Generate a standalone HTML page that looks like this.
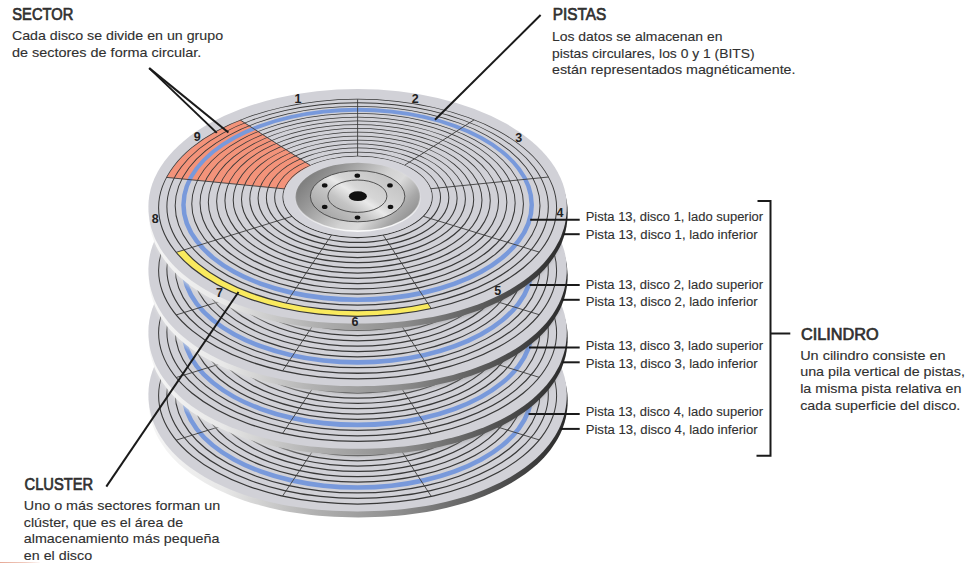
<!DOCTYPE html>
<html><head><meta charset="utf-8"><style>
html,body{margin:0;padding:0;background:#fff;}
svg{display:block;}
</style></head><body>
<svg width="974" height="563" viewBox="0 0 974 563">

<defs>
<linearGradient id="edge" gradientUnits="userSpaceOnUse" x1="148" y1="0" x2="567" y2="0">
  <stop offset="0" stop-color="#f6f6f6"/>
  <stop offset="0.18" stop-color="#e8e8e8"/>
  <stop offset="0.4" stop-color="#b0b0b0"/>
  <stop offset="0.6" stop-color="#8e8e8e"/>
  <stop offset="0.8" stop-color="#5a5a5a"/>
  <stop offset="1" stop-color="#2a2a2a"/>
</linearGradient>
<linearGradient id="shad" gradientUnits="userSpaceOnUse" x1="148" y1="0" x2="567" y2="0">
  <stop offset="0" stop-color="#e4e4e4" stop-opacity="0.55"/>
  <stop offset="0.25" stop-color="#dddddd" stop-opacity="0.6"/>
  <stop offset="0.45" stop-color="#b0b0b0" stop-opacity="0.55"/>
  <stop offset="0.7" stop-color="#999999" stop-opacity="0.45"/>
  <stop offset="1" stop-color="#555555" stop-opacity="0.25"/>
</linearGradient>
<filter id="blur" x="-5%" y="-5%" width="110%" height="110%"><feGaussianBlur stdDeviation="1.6"/></filter>
<linearGradient id="redfade" gradientUnits="userSpaceOnUse" x1="0" y1="0" x2="42" y2="0">
  <stop offset="0" stop-color="#e6a996"/><stop offset="0.6" stop-color="#f0cbbf"/><stop offset="1" stop-color="#ffffff"/>
</linearGradient>
<linearGradient id="metal" x1="0" y1="0.25" x2="1" y2="0.75">
  <stop offset="0" stop-color="#767676"/>
  <stop offset="0.25" stop-color="#9c9c9c"/>
  <stop offset="0.55" stop-color="#d2d2d2"/>
  <stop offset="0.68" stop-color="#dadada"/>
  <stop offset="0.85" stop-color="#a8a8a8"/>
  <stop offset="1" stop-color="#8a8a8a"/>
</linearGradient>
<linearGradient id="metal2" x1="0" y1="0.9" x2="1" y2="0.1">
  <stop offset="0" stop-color="#9a9a9a"/>
  <stop offset="0.35" stop-color="#c4c4c4"/>
  <stop offset="0.5" stop-color="#e9e9e9"/>
  <stop offset="0.58" stop-color="#d6d6d6"/>
  <stop offset="1" stop-color="#bdbdbd"/>
</linearGradient>
<linearGradient id="rim" x1="0.4" y1="0" x2="0.6" y2="1">
  <stop offset="0" stop-color="#ffffff" stop-opacity="0"/>
  <stop offset="0.55" stop-color="#ffffff" stop-opacity="0.15"/>
  <stop offset="1" stop-color="#ffffff" stop-opacity="0.95"/>
</linearGradient>
</defs>
<rect width="974" height="563" fill="#fff"/>
<path d="M148.70,400.10 A209.50,117.30 0 0 1 567.70,400.10 L567.7,400.1 567.6,404.9 567.2,409.4 566.6,413.8 565.8,418.0 564.7,422.2 563.3,426.4 561.8,430.5 560.0,434.5 557.9,438.4 555.6,442.3 553.1,446.1 550.4,449.9 547.5,453.6 544.3,457.2 540.9,460.7 537.3,464.2 533.4,467.5 529.4,470.8 525.2,474.0 520.7,477.1 516.1,480.1 511.3,483.0 506.3,485.8 501.1,488.5 495.7,491.1 490.2,493.6 484.5,496.0 478.6,498.2 472.6,500.4 466.5,502.4 460.2,504.3 453.7,506.1 447.1,507.7 440.4,509.3 433.6,510.7 426.7,511.9 419.6,513.1 412.4,514.1 405.1,515.0 397.7,515.7 390.2,516.3 382.6,516.8 374.8,517.1 366.8,517.3 358.2,517.4 349.6,517.3 341.6,517.1 333.8,516.8 326.2,516.3 318.7,515.7 311.3,515.0 304.0,514.1 296.8,513.1 289.7,511.9 282.8,510.7 276.0,509.3 269.3,507.7 262.7,506.1 256.2,504.3 249.9,502.4 243.8,500.4 237.8,498.2 231.9,496.0 226.2,493.6 220.7,491.1 215.3,488.5 210.1,485.8 205.1,483.0 200.3,480.1 195.7,477.1 191.2,474.0 187.0,470.8 183.0,467.5 179.1,464.2 175.5,460.7 172.1,457.2 168.9,453.6 166.0,449.9 163.3,446.1 160.8,442.3 158.5,438.4 156.4,434.5 154.6,430.5 153.1,426.4 151.7,422.2 150.6,418.0 149.8,413.8 149.2,409.4 148.8,404.9 148.7,400.1 Z" fill="url(#edge)"/>
<path d="M148.40,394.10 A209.20,117.30 0 0 1 566.80,394.10 L566.8,394.1 566.7,398.9 566.3,403.4 565.7,407.8 564.9,412.0 563.8,416.2 562.4,420.4 560.9,424.5 559.1,428.5 557.0,432.4 554.8,436.3 552.3,440.1 549.5,443.9 546.6,447.6 543.4,451.2 540.0,454.7 536.4,458.2 532.6,461.5 528.6,464.8 524.3,468.0 519.9,471.1 515.3,474.1 510.5,477.0 505.5,479.8 500.3,482.5 494.9,485.1 489.4,487.6 483.7,490.0 477.9,492.2 471.9,494.4 465.7,496.4 459.4,498.3 453.0,500.1 446.4,501.7 439.7,503.3 432.9,504.7 426.0,505.9 418.9,507.1 411.7,508.1 404.5,509.0 397.1,509.7 389.6,510.3 382.0,510.8 374.2,511.1 366.2,511.3 357.6,511.4 349.0,511.3 341.0,511.1 333.2,510.8 325.6,510.3 318.1,509.7 310.7,509.0 303.5,508.1 296.3,507.1 289.2,505.9 282.3,504.7 275.5,503.3 268.8,501.7 262.2,500.1 255.8,498.3 249.5,496.4 243.3,494.4 237.3,492.2 231.5,490.0 225.8,487.6 220.3,485.1 214.9,482.5 209.7,479.8 204.7,477.0 199.9,474.1 195.3,471.1 190.9,468.0 186.6,464.8 182.6,461.5 178.8,458.2 175.2,454.7 171.8,451.2 168.6,447.6 165.7,443.9 162.9,440.1 160.4,436.3 158.2,432.4 156.1,428.5 154.3,424.5 152.8,420.4 151.4,416.2 150.3,412.0 149.5,407.8 148.9,403.4 148.5,398.9 148.4,394.1 Z" fill="#d1d1d7"/>
<path fill-rule="evenodd" fill="#383838" d="M158.10,395.67A199.50,108.96 0 1 0 557.10,395.67A199.50,108.96 0 1 0 158.10,395.67ZM159.10,395.42A198.50,107.96 0 1 0 556.10,395.42A198.50,107.96 0 1 0 159.10,395.42Z"/>
<path fill-rule="evenodd" fill="#383838" d="M166.39,394.63A191.21,104.44 0 1 0 548.81,394.63A191.21,104.44 0 1 0 166.39,394.63ZM167.39,394.38A190.21,103.44 0 1 0 547.81,394.38A190.21,103.44 0 1 0 167.39,394.38Z"/>
<path fill-rule="evenodd" fill="#383838" d="M174.68,393.64A182.92,99.92 0 1 0 540.52,393.64A182.92,99.92 0 1 0 174.68,393.64ZM175.68,393.39A181.92,98.92 0 1 0 539.52,393.39A181.92,98.92 0 1 0 175.68,393.39Z"/>
<path fill-rule="evenodd" fill="#383838" d="M191.26,391.79A166.34,90.88 0 1 0 523.94,391.79A166.34,90.88 0 1 0 191.26,391.79ZM192.26,391.54A165.34,89.88 0 1 0 522.94,391.54A165.34,89.88 0 1 0 192.26,391.54Z"/>
<path fill-rule="evenodd" fill="#383838" d="M199.55,390.94A158.05,86.36 0 1 0 515.65,390.94A158.05,86.36 0 1 0 199.55,390.94ZM200.55,390.69A157.05,85.36 0 1 0 514.65,390.69A157.05,85.36 0 1 0 200.55,390.69Z"/>
<path fill-rule="evenodd" fill="#383838" d="M207.84,390.12A149.76,81.85 0 1 0 507.36,390.12A149.76,81.85 0 1 0 207.84,390.12ZM208.84,389.87A148.76,80.85 0 1 0 506.36,389.87A148.76,80.85 0 1 0 208.84,389.87Z"/>
<path fill-rule="evenodd" fill="#383838" d="M216.13,389.35A141.47,77.33 0 1 0 499.07,389.35A141.47,77.33 0 1 0 216.13,389.35ZM217.13,389.10A140.47,76.33 0 1 0 498.07,389.10A140.47,76.33 0 1 0 217.13,389.10Z"/>
<path fill-rule="evenodd" fill="#383838" d="M224.42,388.62A133.18,72.81 0 1 0 490.78,388.62A133.18,72.81 0 1 0 224.42,388.62ZM225.42,388.37A132.18,71.81 0 1 0 489.78,388.37A132.18,71.81 0 1 0 225.42,388.37Z"/>
<path fill-rule="evenodd" fill="#383838" d="M232.71,387.94A124.89,68.29 0 1 0 482.49,387.94A124.89,68.29 0 1 0 232.71,387.94ZM233.71,387.69A123.89,67.29 0 1 0 481.49,387.69A123.89,67.29 0 1 0 233.71,387.69Z"/>
<path fill-rule="evenodd" fill="#383838" d="M241.00,387.30A116.60,63.77 0 1 0 474.20,387.30A116.60,63.77 0 1 0 241.00,387.30ZM242.00,387.05A115.60,62.77 0 1 0 473.20,387.05A115.60,62.77 0 1 0 242.00,387.05Z"/>
<path fill-rule="evenodd" fill="#383838" d="M249.29,386.71A108.31,59.26 0 1 0 465.91,386.71A108.31,59.26 0 1 0 249.29,386.71ZM250.29,386.46A107.31,58.26 0 1 0 464.91,386.46A107.31,58.26 0 1 0 250.29,386.46Z"/>
<path fill-rule="evenodd" fill="#383838" d="M257.58,386.16A100.02,54.74 0 1 0 457.62,386.16A100.02,54.74 0 1 0 257.58,386.16ZM258.58,385.91A99.02,53.74 0 1 0 456.62,385.91A99.02,53.74 0 1 0 258.58,385.91Z"/>
<path fill-rule="evenodd" fill="#383838" d="M265.87,385.65A91.73,50.22 0 1 0 449.33,385.65A91.73,50.22 0 1 0 265.87,385.65ZM266.87,385.40A90.73,49.22 0 1 0 448.33,385.40A90.73,49.22 0 1 0 266.87,385.40Z"/>
<path fill-rule="evenodd" fill="#383838" d="M274.16,385.19A83.44,45.70 0 1 0 441.04,385.19A83.44,45.70 0 1 0 274.16,385.19ZM275.16,384.94A82.44,44.70 0 1 0 440.04,384.94A82.44,44.70 0 1 0 275.16,384.94Z"/>
<path fill-rule="evenodd" fill="#383838" d="M282.45,384.77A75.15,41.18 0 1 0 432.75,384.77A75.15,41.18 0 1 0 282.45,384.77ZM283.45,384.52A74.15,40.18 0 1 0 431.75,384.52A74.15,40.18 0 1 0 283.45,384.52Z"/>
<path fill-rule="evenodd" fill="#7899db" d="M181.22,392.77A176.38,97.05 0 1 0 533.98,392.77A176.38,97.05 0 1 0 181.22,392.77ZM185.72,392.37A171.88,92.75 0 1 0 529.48,392.37A171.88,92.75 0 1 0 185.72,392.37Z"/>
<line x1="357.60" y1="343.96" x2="357.60" y2="287.09" stroke="#3c3c3c" stroke-width="0.9"/>
<line x1="404.62" y1="353.04" x2="474.08" y2="307.61" stroke="#3c3c3c" stroke-width="0.9"/>
<line x1="430.75" y1="376.52" x2="548.45" y2="364.82" stroke="#3c3c3c" stroke-width="0.9"/>
<line x1="423.20" y1="404.06" x2="539.20" y2="439.90" stroke="#3c3c3c" stroke-width="0.9"/>
<line x1="383.17" y1="422.87" x2="431.23" y2="496.30" stroke="#3c3c3c" stroke-width="0.9"/>
<line x1="331.55" y1="422.77" x2="282.59" y2="496.00" stroke="#3c3c3c" stroke-width="0.9"/>
<line x1="292.09" y1="404.15" x2="176.20" y2="440.14" stroke="#3c3c3c" stroke-width="0.9"/>
<line x1="284.40" y1="376.67" x2="166.55" y2="365.20" stroke="#3c3c3c" stroke-width="0.9"/>
<line x1="310.29" y1="353.17" x2="240.36" y2="307.91" stroke="#3c3c3c" stroke-width="0.9"/>
<ellipse cx="357.60" cy="384.64" rx="74.15" ry="40.18" fill="#d4d4da"/>
<ellipse cx="357.8" cy="384.70" rx="62.3" ry="34.2" fill="url(#metal)" stroke="url(#rim)" stroke-width="1.6"/>
<ellipse cx="357.6" cy="384.00" rx="47.25" ry="25.6" fill="url(#metal2)" stroke="#444" stroke-width="0.9"/>
<ellipse cx="357.4" cy="384.00" rx="29.5" ry="16.2" fill="none" stroke="#444" stroke-width="0.9"/>
<ellipse cx="357.9" cy="384.00" rx="9" ry="4.9" fill="#111"/>
<ellipse cx="357.3" cy="363.50" rx="2.8" ry="2.1" fill="#111"/>
<ellipse cx="390" cy="373.20" rx="2.8" ry="2.1" fill="#111"/>
<ellipse cx="390.5" cy="394.70" rx="2.8" ry="2.1" fill="#111"/>
<ellipse cx="357.5" cy="405.30" rx="2.8" ry="2.1" fill="#111"/>
<ellipse cx="324.7" cy="394.70" rx="2.8" ry="2.1" fill="#111"/>
<ellipse cx="324.7" cy="373.20" rx="2.8" ry="2.1" fill="#111"/>
<clipPath id="cl2"><path d="M148.40,394.10 A209.20,117.30 0 0 1 566.80,394.10 L566.8,394.1 566.7,398.9 566.3,403.4 565.7,407.8 564.9,412.0 563.8,416.2 562.4,420.4 560.9,424.5 559.1,428.5 557.0,432.4 554.8,436.3 552.3,440.1 549.5,443.9 546.6,447.6 543.4,451.2 540.0,454.7 536.4,458.2 532.6,461.5 528.6,464.8 524.3,468.0 519.9,471.1 515.3,474.1 510.5,477.0 505.5,479.8 500.3,482.5 494.9,485.1 489.4,487.6 483.7,490.0 477.9,492.2 471.9,494.4 465.7,496.4 459.4,498.3 453.0,500.1 446.4,501.7 439.7,503.3 432.9,504.7 426.0,505.9 418.9,507.1 411.7,508.1 404.5,509.0 397.1,509.7 389.6,510.3 382.0,510.8 374.2,511.1 366.2,511.3 357.6,511.4 349.0,511.3 341.0,511.1 333.2,510.8 325.6,510.3 318.1,509.7 310.7,509.0 303.5,508.1 296.3,507.1 289.2,505.9 282.3,504.7 275.5,503.3 268.8,501.7 262.2,500.1 255.8,498.3 249.5,496.4 243.3,494.4 237.3,492.2 231.5,490.0 225.8,487.6 220.3,485.1 214.9,482.5 209.7,479.8 204.7,477.0 199.9,474.1 195.3,471.1 190.9,468.0 186.6,464.8 182.6,461.5 178.8,458.2 175.2,454.7 171.8,451.2 168.6,447.6 165.7,443.9 162.9,440.1 160.4,436.3 158.2,432.4 156.1,428.5 154.3,424.5 152.8,420.4 151.4,416.2 150.3,412.0 149.5,407.8 148.9,403.4 148.5,398.9 148.4,394.1 Z"/></clipPath><g clip-path="url(#cl2)"><path d="M148.40,339.50 A209.20,117.30 0 0 1 566.80,339.50 L566.8,339.5 566.7,344.3 566.3,348.8 565.7,353.2 564.9,357.4 563.8,361.6 562.4,365.8 560.9,369.9 559.1,373.9 557.0,377.8 554.8,381.7 552.3,385.5 549.5,389.3 546.6,393.0 543.4,396.6 540.0,400.1 536.4,403.6 532.6,406.9 528.6,410.2 524.3,413.4 519.9,416.5 515.3,419.5 510.5,422.4 505.5,425.2 500.3,427.9 494.9,430.5 489.4,433.0 483.7,435.4 477.9,437.6 471.9,439.8 465.7,441.8 459.4,443.7 453.0,445.5 446.4,447.1 439.7,448.7 432.9,450.1 426.0,451.3 418.9,452.5 411.7,453.5 404.5,454.4 397.1,455.1 389.6,455.7 382.0,456.2 374.2,456.5 366.2,456.7 357.6,456.8 349.0,456.7 341.0,456.5 333.2,456.2 325.6,455.7 318.1,455.1 310.7,454.4 303.5,453.5 296.3,452.5 289.2,451.3 282.3,450.1 275.5,448.7 268.8,447.1 262.2,445.5 255.8,443.7 249.5,441.8 243.3,439.8 237.3,437.6 231.5,435.4 225.8,433.0 220.3,430.5 214.9,427.9 209.7,425.2 204.7,422.4 199.9,419.5 195.3,416.5 190.9,413.4 186.6,410.2 182.6,406.9 178.8,403.6 175.2,400.1 171.8,396.6 168.6,393.0 165.7,389.3 162.9,385.5 160.4,381.7 158.2,377.8 156.1,373.9 154.3,369.9 152.8,365.8 151.4,361.6 150.3,357.4 149.5,353.2 148.9,348.8 148.5,344.3 148.4,339.5 Z" fill="url(#shad)" filter="url(#blur)"/></g>
<path d="M148.70,337.50 A209.50,117.30 0 0 1 567.70,337.50 L567.7,337.5 567.6,342.3 567.2,346.8 566.6,351.2 565.8,355.4 564.7,359.6 563.3,363.8 561.8,367.9 560.0,371.9 557.9,375.8 555.6,379.7 553.1,383.5 550.4,387.3 547.5,391.0 544.3,394.6 540.9,398.1 537.3,401.6 533.4,404.9 529.4,408.2 525.2,411.4 520.7,414.5 516.1,417.5 511.3,420.4 506.3,423.2 501.1,425.9 495.7,428.5 490.2,431.0 484.5,433.4 478.6,435.6 472.6,437.8 466.5,439.8 460.2,441.7 453.7,443.5 447.1,445.1 440.4,446.7 433.6,448.1 426.7,449.3 419.6,450.5 412.4,451.5 405.1,452.4 397.7,453.1 390.2,453.7 382.6,454.2 374.8,454.5 366.8,454.7 358.2,454.8 349.6,454.7 341.6,454.5 333.8,454.2 326.2,453.7 318.7,453.1 311.3,452.4 304.0,451.5 296.8,450.5 289.7,449.3 282.8,448.1 276.0,446.7 269.3,445.1 262.7,443.5 256.2,441.7 249.9,439.8 243.8,437.8 237.8,435.6 231.9,433.4 226.2,431.0 220.7,428.5 215.3,425.9 210.1,423.2 205.1,420.4 200.3,417.5 195.7,414.5 191.2,411.4 187.0,408.2 183.0,404.9 179.1,401.6 175.5,398.1 172.1,394.6 168.9,391.0 166.0,387.3 163.3,383.5 160.8,379.7 158.5,375.8 156.4,371.9 154.6,367.9 153.1,363.8 151.7,359.6 150.6,355.4 149.8,351.2 149.2,346.8 148.8,342.3 148.7,337.5 Z" fill="url(#edge)"/>
<path d="M148.40,331.50 A209.20,117.30 0 0 1 566.80,331.50 L566.8,331.5 566.7,336.3 566.3,340.8 565.7,345.2 564.9,349.4 563.8,353.6 562.4,357.8 560.9,361.9 559.1,365.9 557.0,369.8 554.8,373.7 552.3,377.5 549.5,381.3 546.6,385.0 543.4,388.6 540.0,392.1 536.4,395.6 532.6,398.9 528.6,402.2 524.3,405.4 519.9,408.5 515.3,411.5 510.5,414.4 505.5,417.2 500.3,419.9 494.9,422.5 489.4,425.0 483.7,427.4 477.9,429.6 471.9,431.8 465.7,433.8 459.4,435.7 453.0,437.5 446.4,439.1 439.7,440.7 432.9,442.1 426.0,443.3 418.9,444.5 411.7,445.5 404.5,446.4 397.1,447.1 389.6,447.7 382.0,448.2 374.2,448.5 366.2,448.7 357.6,448.8 349.0,448.7 341.0,448.5 333.2,448.2 325.6,447.7 318.1,447.1 310.7,446.4 303.5,445.5 296.3,444.5 289.2,443.3 282.3,442.1 275.5,440.7 268.8,439.1 262.2,437.5 255.8,435.7 249.5,433.8 243.3,431.8 237.3,429.6 231.5,427.4 225.8,425.0 220.3,422.5 214.9,419.9 209.7,417.2 204.7,414.4 199.9,411.5 195.3,408.5 190.9,405.4 186.6,402.2 182.6,398.9 178.8,395.6 175.2,392.1 171.8,388.6 168.6,385.0 165.7,381.3 162.9,377.5 160.4,373.7 158.2,369.8 156.1,365.9 154.3,361.9 152.8,357.8 151.4,353.6 150.3,349.4 149.5,345.2 148.9,340.8 148.5,336.3 148.4,331.5 Z" fill="#d1d1d7"/>
<path fill-rule="evenodd" fill="#383838" d="M158.10,333.07A199.50,108.96 0 1 0 557.10,333.07A199.50,108.96 0 1 0 158.10,333.07ZM159.10,332.82A198.50,107.96 0 1 0 556.10,332.82A198.50,107.96 0 1 0 159.10,332.82Z"/>
<path fill-rule="evenodd" fill="#383838" d="M166.39,332.03A191.21,104.44 0 1 0 548.81,332.03A191.21,104.44 0 1 0 166.39,332.03ZM167.39,331.78A190.21,103.44 0 1 0 547.81,331.78A190.21,103.44 0 1 0 167.39,331.78Z"/>
<path fill-rule="evenodd" fill="#383838" d="M174.68,331.04A182.92,99.92 0 1 0 540.52,331.04A182.92,99.92 0 1 0 174.68,331.04ZM175.68,330.79A181.92,98.92 0 1 0 539.52,330.79A181.92,98.92 0 1 0 175.68,330.79Z"/>
<path fill-rule="evenodd" fill="#383838" d="M191.26,329.19A166.34,90.88 0 1 0 523.94,329.19A166.34,90.88 0 1 0 191.26,329.19ZM192.26,328.94A165.34,89.88 0 1 0 522.94,328.94A165.34,89.88 0 1 0 192.26,328.94Z"/>
<path fill-rule="evenodd" fill="#383838" d="M199.55,328.34A158.05,86.36 0 1 0 515.65,328.34A158.05,86.36 0 1 0 199.55,328.34ZM200.55,328.09A157.05,85.36 0 1 0 514.65,328.09A157.05,85.36 0 1 0 200.55,328.09Z"/>
<path fill-rule="evenodd" fill="#383838" d="M207.84,327.52A149.76,81.85 0 1 0 507.36,327.52A149.76,81.85 0 1 0 207.84,327.52ZM208.84,327.27A148.76,80.85 0 1 0 506.36,327.27A148.76,80.85 0 1 0 208.84,327.27Z"/>
<path fill-rule="evenodd" fill="#383838" d="M216.13,326.75A141.47,77.33 0 1 0 499.07,326.75A141.47,77.33 0 1 0 216.13,326.75ZM217.13,326.50A140.47,76.33 0 1 0 498.07,326.50A140.47,76.33 0 1 0 217.13,326.50Z"/>
<path fill-rule="evenodd" fill="#383838" d="M224.42,326.02A133.18,72.81 0 1 0 490.78,326.02A133.18,72.81 0 1 0 224.42,326.02ZM225.42,325.77A132.18,71.81 0 1 0 489.78,325.77A132.18,71.81 0 1 0 225.42,325.77Z"/>
<path fill-rule="evenodd" fill="#383838" d="M232.71,325.34A124.89,68.29 0 1 0 482.49,325.34A124.89,68.29 0 1 0 232.71,325.34ZM233.71,325.09A123.89,67.29 0 1 0 481.49,325.09A123.89,67.29 0 1 0 233.71,325.09Z"/>
<path fill-rule="evenodd" fill="#383838" d="M241.00,324.70A116.60,63.77 0 1 0 474.20,324.70A116.60,63.77 0 1 0 241.00,324.70ZM242.00,324.45A115.60,62.77 0 1 0 473.20,324.45A115.60,62.77 0 1 0 242.00,324.45Z"/>
<path fill-rule="evenodd" fill="#383838" d="M249.29,324.11A108.31,59.26 0 1 0 465.91,324.11A108.31,59.26 0 1 0 249.29,324.11ZM250.29,323.86A107.31,58.26 0 1 0 464.91,323.86A107.31,58.26 0 1 0 250.29,323.86Z"/>
<path fill-rule="evenodd" fill="#383838" d="M257.58,323.56A100.02,54.74 0 1 0 457.62,323.56A100.02,54.74 0 1 0 257.58,323.56ZM258.58,323.31A99.02,53.74 0 1 0 456.62,323.31A99.02,53.74 0 1 0 258.58,323.31Z"/>
<path fill-rule="evenodd" fill="#383838" d="M265.87,323.05A91.73,50.22 0 1 0 449.33,323.05A91.73,50.22 0 1 0 265.87,323.05ZM266.87,322.80A90.73,49.22 0 1 0 448.33,322.80A90.73,49.22 0 1 0 266.87,322.80Z"/>
<path fill-rule="evenodd" fill="#383838" d="M274.16,322.59A83.44,45.70 0 1 0 441.04,322.59A83.44,45.70 0 1 0 274.16,322.59ZM275.16,322.34A82.44,44.70 0 1 0 440.04,322.34A82.44,44.70 0 1 0 275.16,322.34Z"/>
<path fill-rule="evenodd" fill="#383838" d="M282.45,322.17A75.15,41.18 0 1 0 432.75,322.17A75.15,41.18 0 1 0 282.45,322.17ZM283.45,321.92A74.15,40.18 0 1 0 431.75,321.92A74.15,40.18 0 1 0 283.45,321.92Z"/>
<path fill-rule="evenodd" fill="#7899db" d="M181.22,330.17A176.38,97.05 0 1 0 533.98,330.17A176.38,97.05 0 1 0 181.22,330.17ZM185.72,329.77A171.88,92.75 0 1 0 529.48,329.77A171.88,92.75 0 1 0 185.72,329.77Z"/>
<line x1="357.60" y1="281.36" x2="357.60" y2="224.49" stroke="#3c3c3c" stroke-width="0.9"/>
<line x1="404.62" y1="290.44" x2="474.08" y2="245.01" stroke="#3c3c3c" stroke-width="0.9"/>
<line x1="430.75" y1="313.92" x2="548.45" y2="302.22" stroke="#3c3c3c" stroke-width="0.9"/>
<line x1="423.20" y1="341.46" x2="539.20" y2="377.30" stroke="#3c3c3c" stroke-width="0.9"/>
<line x1="383.17" y1="360.27" x2="431.23" y2="433.70" stroke="#3c3c3c" stroke-width="0.9"/>
<line x1="331.55" y1="360.17" x2="282.59" y2="433.40" stroke="#3c3c3c" stroke-width="0.9"/>
<line x1="292.09" y1="341.55" x2="176.20" y2="377.54" stroke="#3c3c3c" stroke-width="0.9"/>
<line x1="284.40" y1="314.07" x2="166.55" y2="302.60" stroke="#3c3c3c" stroke-width="0.9"/>
<line x1="310.29" y1="290.57" x2="240.36" y2="245.31" stroke="#3c3c3c" stroke-width="0.9"/>
<ellipse cx="357.60" cy="322.04" rx="74.15" ry="40.18" fill="#d4d4da"/>
<ellipse cx="357.8" cy="322.10" rx="62.3" ry="34.2" fill="url(#metal)" stroke="url(#rim)" stroke-width="1.6"/>
<ellipse cx="357.6" cy="321.40" rx="47.25" ry="25.6" fill="url(#metal2)" stroke="#444" stroke-width="0.9"/>
<ellipse cx="357.4" cy="321.40" rx="29.5" ry="16.2" fill="none" stroke="#444" stroke-width="0.9"/>
<ellipse cx="357.9" cy="321.40" rx="9" ry="4.9" fill="#111"/>
<ellipse cx="357.3" cy="300.90" rx="2.8" ry="2.1" fill="#111"/>
<ellipse cx="390" cy="310.60" rx="2.8" ry="2.1" fill="#111"/>
<ellipse cx="390.5" cy="332.10" rx="2.8" ry="2.1" fill="#111"/>
<ellipse cx="357.5" cy="342.70" rx="2.8" ry="2.1" fill="#111"/>
<ellipse cx="324.7" cy="332.10" rx="2.8" ry="2.1" fill="#111"/>
<ellipse cx="324.7" cy="310.60" rx="2.8" ry="2.1" fill="#111"/>
<clipPath id="cl1"><path d="M148.40,331.50 A209.20,117.30 0 0 1 566.80,331.50 L566.8,331.5 566.7,336.3 566.3,340.8 565.7,345.2 564.9,349.4 563.8,353.6 562.4,357.8 560.9,361.9 559.1,365.9 557.0,369.8 554.8,373.7 552.3,377.5 549.5,381.3 546.6,385.0 543.4,388.6 540.0,392.1 536.4,395.6 532.6,398.9 528.6,402.2 524.3,405.4 519.9,408.5 515.3,411.5 510.5,414.4 505.5,417.2 500.3,419.9 494.9,422.5 489.4,425.0 483.7,427.4 477.9,429.6 471.9,431.8 465.7,433.8 459.4,435.7 453.0,437.5 446.4,439.1 439.7,440.7 432.9,442.1 426.0,443.3 418.9,444.5 411.7,445.5 404.5,446.4 397.1,447.1 389.6,447.7 382.0,448.2 374.2,448.5 366.2,448.7 357.6,448.8 349.0,448.7 341.0,448.5 333.2,448.2 325.6,447.7 318.1,447.1 310.7,446.4 303.5,445.5 296.3,444.5 289.2,443.3 282.3,442.1 275.5,440.7 268.8,439.1 262.2,437.5 255.8,435.7 249.5,433.8 243.3,431.8 237.3,429.6 231.5,427.4 225.8,425.0 220.3,422.5 214.9,419.9 209.7,417.2 204.7,414.4 199.9,411.5 195.3,408.5 190.9,405.4 186.6,402.2 182.6,398.9 178.8,395.6 175.2,392.1 171.8,388.6 168.6,385.0 165.7,381.3 162.9,377.5 160.4,373.7 158.2,369.8 156.1,365.9 154.3,361.9 152.8,357.8 151.4,353.6 150.3,349.4 149.5,345.2 148.9,340.8 148.5,336.3 148.4,331.5 Z"/></clipPath><g clip-path="url(#cl1)"><path d="M148.40,276.90 A209.20,117.30 0 0 1 566.80,276.90 L566.8,276.9 566.7,281.7 566.3,286.2 565.7,290.6 564.9,294.8 563.8,299.0 562.4,303.2 560.9,307.3 559.1,311.3 557.0,315.2 554.8,319.1 552.3,322.9 549.5,326.7 546.6,330.4 543.4,334.0 540.0,337.5 536.4,341.0 532.6,344.3 528.6,347.6 524.3,350.8 519.9,353.9 515.3,356.9 510.5,359.8 505.5,362.6 500.3,365.3 494.9,367.9 489.4,370.4 483.7,372.8 477.9,375.0 471.9,377.2 465.7,379.2 459.4,381.1 453.0,382.9 446.4,384.5 439.7,386.1 432.9,387.5 426.0,388.7 418.9,389.9 411.7,390.9 404.5,391.8 397.1,392.5 389.6,393.1 382.0,393.6 374.2,393.9 366.2,394.1 357.6,394.2 349.0,394.1 341.0,393.9 333.2,393.6 325.6,393.1 318.1,392.5 310.7,391.8 303.5,390.9 296.3,389.9 289.2,388.7 282.3,387.5 275.5,386.1 268.8,384.5 262.2,382.9 255.8,381.1 249.5,379.2 243.3,377.2 237.3,375.0 231.5,372.8 225.8,370.4 220.3,367.9 214.9,365.3 209.7,362.6 204.7,359.8 199.9,356.9 195.3,353.9 190.9,350.8 186.6,347.6 182.6,344.3 178.8,341.0 175.2,337.5 171.8,334.0 168.6,330.4 165.7,326.7 162.9,322.9 160.4,319.1 158.2,315.2 156.1,311.3 154.3,307.3 152.8,303.2 151.4,299.0 150.3,294.8 149.5,290.6 148.9,286.2 148.5,281.7 148.4,276.9 Z" fill="url(#shad)" filter="url(#blur)"/></g>
<path d="M148.70,274.90 A209.50,117.30 0 0 1 567.70,274.90 L567.7,274.9 567.6,279.7 567.2,284.2 566.6,288.6 565.8,292.8 564.7,297.0 563.3,301.2 561.8,305.3 560.0,309.3 557.9,313.2 555.6,317.1 553.1,320.9 550.4,324.7 547.5,328.4 544.3,332.0 540.9,335.5 537.3,339.0 533.4,342.3 529.4,345.6 525.2,348.8 520.7,351.9 516.1,354.9 511.3,357.8 506.3,360.6 501.1,363.3 495.7,365.9 490.2,368.4 484.5,370.8 478.6,373.0 472.6,375.2 466.5,377.2 460.2,379.1 453.7,380.9 447.1,382.5 440.4,384.1 433.6,385.5 426.7,386.7 419.6,387.9 412.4,388.9 405.1,389.8 397.7,390.5 390.2,391.1 382.6,391.6 374.8,391.9 366.8,392.1 358.2,392.2 349.6,392.1 341.6,391.9 333.8,391.6 326.2,391.1 318.7,390.5 311.3,389.8 304.0,388.9 296.8,387.9 289.7,386.7 282.8,385.5 276.0,384.1 269.3,382.5 262.7,380.9 256.2,379.1 249.9,377.2 243.8,375.2 237.8,373.0 231.9,370.8 226.2,368.4 220.7,365.9 215.3,363.3 210.1,360.6 205.1,357.8 200.3,354.9 195.7,351.9 191.2,348.8 187.0,345.6 183.0,342.3 179.1,339.0 175.5,335.5 172.1,332.0 168.9,328.4 166.0,324.7 163.3,320.9 160.8,317.1 158.5,313.2 156.4,309.3 154.6,305.3 153.1,301.2 151.7,297.0 150.6,292.8 149.8,288.6 149.2,284.2 148.8,279.7 148.7,274.9 Z" fill="url(#edge)"/>
<path d="M148.40,268.90 A209.20,117.30 0 0 1 566.80,268.90 L566.8,268.9 566.7,273.7 566.3,278.2 565.7,282.6 564.9,286.8 563.8,291.0 562.4,295.2 560.9,299.3 559.1,303.3 557.0,307.2 554.8,311.1 552.3,314.9 549.5,318.7 546.6,322.4 543.4,326.0 540.0,329.5 536.4,333.0 532.6,336.3 528.6,339.6 524.3,342.8 519.9,345.9 515.3,348.9 510.5,351.8 505.5,354.6 500.3,357.3 494.9,359.9 489.4,362.4 483.7,364.8 477.9,367.0 471.9,369.2 465.7,371.2 459.4,373.1 453.0,374.9 446.4,376.5 439.7,378.1 432.9,379.5 426.0,380.7 418.9,381.9 411.7,382.9 404.5,383.8 397.1,384.5 389.6,385.1 382.0,385.6 374.2,385.9 366.2,386.1 357.6,386.2 349.0,386.1 341.0,385.9 333.2,385.6 325.6,385.1 318.1,384.5 310.7,383.8 303.5,382.9 296.3,381.9 289.2,380.7 282.3,379.5 275.5,378.1 268.8,376.5 262.2,374.9 255.8,373.1 249.5,371.2 243.3,369.2 237.3,367.0 231.5,364.8 225.8,362.4 220.3,359.9 214.9,357.3 209.7,354.6 204.7,351.8 199.9,348.9 195.3,345.9 190.9,342.8 186.6,339.6 182.6,336.3 178.8,333.0 175.2,329.5 171.8,326.0 168.6,322.4 165.7,318.7 162.9,314.9 160.4,311.1 158.2,307.2 156.1,303.3 154.3,299.3 152.8,295.2 151.4,291.0 150.3,286.8 149.5,282.6 148.9,278.2 148.5,273.7 148.4,268.9 Z" fill="#d1d1d7"/>
<path fill-rule="evenodd" fill="#383838" d="M158.10,270.47A199.50,108.96 0 1 0 557.10,270.47A199.50,108.96 0 1 0 158.10,270.47ZM159.10,270.22A198.50,107.96 0 1 0 556.10,270.22A198.50,107.96 0 1 0 159.10,270.22Z"/>
<path fill-rule="evenodd" fill="#383838" d="M166.39,269.43A191.21,104.44 0 1 0 548.81,269.43A191.21,104.44 0 1 0 166.39,269.43ZM167.39,269.18A190.21,103.44 0 1 0 547.81,269.18A190.21,103.44 0 1 0 167.39,269.18Z"/>
<path fill-rule="evenodd" fill="#383838" d="M174.68,268.44A182.92,99.92 0 1 0 540.52,268.44A182.92,99.92 0 1 0 174.68,268.44ZM175.68,268.19A181.92,98.92 0 1 0 539.52,268.19A181.92,98.92 0 1 0 175.68,268.19Z"/>
<path fill-rule="evenodd" fill="#383838" d="M191.26,266.59A166.34,90.88 0 1 0 523.94,266.59A166.34,90.88 0 1 0 191.26,266.59ZM192.26,266.34A165.34,89.88 0 1 0 522.94,266.34A165.34,89.88 0 1 0 192.26,266.34Z"/>
<path fill-rule="evenodd" fill="#383838" d="M199.55,265.74A158.05,86.36 0 1 0 515.65,265.74A158.05,86.36 0 1 0 199.55,265.74ZM200.55,265.49A157.05,85.36 0 1 0 514.65,265.49A157.05,85.36 0 1 0 200.55,265.49Z"/>
<path fill-rule="evenodd" fill="#383838" d="M207.84,264.92A149.76,81.85 0 1 0 507.36,264.92A149.76,81.85 0 1 0 207.84,264.92ZM208.84,264.67A148.76,80.85 0 1 0 506.36,264.67A148.76,80.85 0 1 0 208.84,264.67Z"/>
<path fill-rule="evenodd" fill="#383838" d="M216.13,264.15A141.47,77.33 0 1 0 499.07,264.15A141.47,77.33 0 1 0 216.13,264.15ZM217.13,263.90A140.47,76.33 0 1 0 498.07,263.90A140.47,76.33 0 1 0 217.13,263.90Z"/>
<path fill-rule="evenodd" fill="#383838" d="M224.42,263.42A133.18,72.81 0 1 0 490.78,263.42A133.18,72.81 0 1 0 224.42,263.42ZM225.42,263.17A132.18,71.81 0 1 0 489.78,263.17A132.18,71.81 0 1 0 225.42,263.17Z"/>
<path fill-rule="evenodd" fill="#383838" d="M232.71,262.74A124.89,68.29 0 1 0 482.49,262.74A124.89,68.29 0 1 0 232.71,262.74ZM233.71,262.49A123.89,67.29 0 1 0 481.49,262.49A123.89,67.29 0 1 0 233.71,262.49Z"/>
<path fill-rule="evenodd" fill="#383838" d="M241.00,262.10A116.60,63.77 0 1 0 474.20,262.10A116.60,63.77 0 1 0 241.00,262.10ZM242.00,261.85A115.60,62.77 0 1 0 473.20,261.85A115.60,62.77 0 1 0 242.00,261.85Z"/>
<path fill-rule="evenodd" fill="#383838" d="M249.29,261.51A108.31,59.26 0 1 0 465.91,261.51A108.31,59.26 0 1 0 249.29,261.51ZM250.29,261.26A107.31,58.26 0 1 0 464.91,261.26A107.31,58.26 0 1 0 250.29,261.26Z"/>
<path fill-rule="evenodd" fill="#383838" d="M257.58,260.96A100.02,54.74 0 1 0 457.62,260.96A100.02,54.74 0 1 0 257.58,260.96ZM258.58,260.71A99.02,53.74 0 1 0 456.62,260.71A99.02,53.74 0 1 0 258.58,260.71Z"/>
<path fill-rule="evenodd" fill="#383838" d="M265.87,260.45A91.73,50.22 0 1 0 449.33,260.45A91.73,50.22 0 1 0 265.87,260.45ZM266.87,260.20A90.73,49.22 0 1 0 448.33,260.20A90.73,49.22 0 1 0 266.87,260.20Z"/>
<path fill-rule="evenodd" fill="#383838" d="M274.16,259.99A83.44,45.70 0 1 0 441.04,259.99A83.44,45.70 0 1 0 274.16,259.99ZM275.16,259.74A82.44,44.70 0 1 0 440.04,259.74A82.44,44.70 0 1 0 275.16,259.74Z"/>
<path fill-rule="evenodd" fill="#383838" d="M282.45,259.57A75.15,41.18 0 1 0 432.75,259.57A75.15,41.18 0 1 0 282.45,259.57ZM283.45,259.32A74.15,40.18 0 1 0 431.75,259.32A74.15,40.18 0 1 0 283.45,259.32Z"/>
<path fill-rule="evenodd" fill="#7899db" d="M181.22,267.57A176.38,97.05 0 1 0 533.98,267.57A176.38,97.05 0 1 0 181.22,267.57ZM185.72,267.17A171.88,92.75 0 1 0 529.48,267.17A171.88,92.75 0 1 0 185.72,267.17Z"/>
<line x1="357.60" y1="218.76" x2="357.60" y2="161.89" stroke="#3c3c3c" stroke-width="0.9"/>
<line x1="404.62" y1="227.84" x2="474.08" y2="182.41" stroke="#3c3c3c" stroke-width="0.9"/>
<line x1="430.75" y1="251.32" x2="548.45" y2="239.62" stroke="#3c3c3c" stroke-width="0.9"/>
<line x1="423.20" y1="278.86" x2="539.20" y2="314.70" stroke="#3c3c3c" stroke-width="0.9"/>
<line x1="383.17" y1="297.67" x2="431.23" y2="371.10" stroke="#3c3c3c" stroke-width="0.9"/>
<line x1="331.55" y1="297.57" x2="282.59" y2="370.80" stroke="#3c3c3c" stroke-width="0.9"/>
<line x1="292.09" y1="278.95" x2="176.20" y2="314.94" stroke="#3c3c3c" stroke-width="0.9"/>
<line x1="284.40" y1="251.47" x2="166.55" y2="240.00" stroke="#3c3c3c" stroke-width="0.9"/>
<line x1="310.29" y1="227.97" x2="240.36" y2="182.71" stroke="#3c3c3c" stroke-width="0.9"/>
<ellipse cx="357.60" cy="259.44" rx="74.15" ry="40.18" fill="#d4d4da"/>
<ellipse cx="357.8" cy="259.50" rx="62.3" ry="34.2" fill="url(#metal)" stroke="url(#rim)" stroke-width="1.6"/>
<ellipse cx="357.6" cy="258.80" rx="47.25" ry="25.6" fill="url(#metal2)" stroke="#444" stroke-width="0.9"/>
<ellipse cx="357.4" cy="258.80" rx="29.5" ry="16.2" fill="none" stroke="#444" stroke-width="0.9"/>
<ellipse cx="357.9" cy="258.80" rx="9" ry="4.9" fill="#111"/>
<ellipse cx="357.3" cy="238.30" rx="2.8" ry="2.1" fill="#111"/>
<ellipse cx="390" cy="248.00" rx="2.8" ry="2.1" fill="#111"/>
<ellipse cx="390.5" cy="269.50" rx="2.8" ry="2.1" fill="#111"/>
<ellipse cx="357.5" cy="280.10" rx="2.8" ry="2.1" fill="#111"/>
<ellipse cx="324.7" cy="269.50" rx="2.8" ry="2.1" fill="#111"/>
<ellipse cx="324.7" cy="248.00" rx="2.8" ry="2.1" fill="#111"/>
<clipPath id="cl0"><path d="M148.40,268.90 A209.20,117.30 0 0 1 566.80,268.90 L566.8,268.9 566.7,273.7 566.3,278.2 565.7,282.6 564.9,286.8 563.8,291.0 562.4,295.2 560.9,299.3 559.1,303.3 557.0,307.2 554.8,311.1 552.3,314.9 549.5,318.7 546.6,322.4 543.4,326.0 540.0,329.5 536.4,333.0 532.6,336.3 528.6,339.6 524.3,342.8 519.9,345.9 515.3,348.9 510.5,351.8 505.5,354.6 500.3,357.3 494.9,359.9 489.4,362.4 483.7,364.8 477.9,367.0 471.9,369.2 465.7,371.2 459.4,373.1 453.0,374.9 446.4,376.5 439.7,378.1 432.9,379.5 426.0,380.7 418.9,381.9 411.7,382.9 404.5,383.8 397.1,384.5 389.6,385.1 382.0,385.6 374.2,385.9 366.2,386.1 357.6,386.2 349.0,386.1 341.0,385.9 333.2,385.6 325.6,385.1 318.1,384.5 310.7,383.8 303.5,382.9 296.3,381.9 289.2,380.7 282.3,379.5 275.5,378.1 268.8,376.5 262.2,374.9 255.8,373.1 249.5,371.2 243.3,369.2 237.3,367.0 231.5,364.8 225.8,362.4 220.3,359.9 214.9,357.3 209.7,354.6 204.7,351.8 199.9,348.9 195.3,345.9 190.9,342.8 186.6,339.6 182.6,336.3 178.8,333.0 175.2,329.5 171.8,326.0 168.6,322.4 165.7,318.7 162.9,314.9 160.4,311.1 158.2,307.2 156.1,303.3 154.3,299.3 152.8,295.2 151.4,291.0 150.3,286.8 149.5,282.6 148.9,278.2 148.5,273.7 148.4,268.9 Z"/></clipPath><g clip-path="url(#cl0)"><path d="M148.40,214.30 A209.20,117.30 0 0 1 566.80,214.30 L566.8,214.3 566.7,219.1 566.3,223.6 565.7,228.0 564.9,232.2 563.8,236.4 562.4,240.6 560.9,244.7 559.1,248.7 557.0,252.6 554.8,256.5 552.3,260.3 549.5,264.1 546.6,267.8 543.4,271.4 540.0,274.9 536.4,278.4 532.6,281.7 528.6,285.0 524.3,288.2 519.9,291.3 515.3,294.3 510.5,297.2 505.5,300.0 500.3,302.7 494.9,305.3 489.4,307.8 483.7,310.2 477.9,312.4 471.9,314.6 465.7,316.6 459.4,318.5 453.0,320.3 446.4,321.9 439.7,323.5 432.9,324.9 426.0,326.1 418.9,327.3 411.7,328.3 404.5,329.2 397.1,329.9 389.6,330.5 382.0,331.0 374.2,331.3 366.2,331.5 357.6,331.6 349.0,331.5 341.0,331.3 333.2,331.0 325.6,330.5 318.1,329.9 310.7,329.2 303.5,328.3 296.3,327.3 289.2,326.1 282.3,324.9 275.5,323.5 268.8,321.9 262.2,320.3 255.8,318.5 249.5,316.6 243.3,314.6 237.3,312.4 231.5,310.2 225.8,307.8 220.3,305.3 214.9,302.7 209.7,300.0 204.7,297.2 199.9,294.3 195.3,291.3 190.9,288.2 186.6,285.0 182.6,281.7 178.8,278.4 175.2,274.9 171.8,271.4 168.6,267.8 165.7,264.1 162.9,260.3 160.4,256.5 158.2,252.6 156.1,248.7 154.3,244.7 152.8,240.6 151.4,236.4 150.3,232.2 149.5,228.0 148.9,223.6 148.5,219.1 148.4,214.3 Z" fill="url(#shad)" filter="url(#blur)"/></g>
<path d="M148.70,212.30 A209.50,117.30 0 0 1 567.70,212.30 L567.7,212.3 567.6,217.1 567.2,221.6 566.6,226.0 565.8,230.2 564.7,234.4 563.3,238.6 561.8,242.7 560.0,246.7 557.9,250.6 555.6,254.5 553.1,258.3 550.4,262.1 547.5,265.8 544.3,269.4 540.9,272.9 537.3,276.4 533.4,279.7 529.4,283.0 525.2,286.2 520.7,289.3 516.1,292.3 511.3,295.2 506.3,298.0 501.1,300.7 495.7,303.3 490.2,305.8 484.5,308.2 478.6,310.4 472.6,312.6 466.5,314.6 460.2,316.5 453.7,318.3 447.1,319.9 440.4,321.5 433.6,322.9 426.7,324.1 419.6,325.3 412.4,326.3 405.1,327.2 397.7,327.9 390.2,328.5 382.6,329.0 374.8,329.3 366.8,329.5 358.2,329.6 349.6,329.5 341.6,329.3 333.8,329.0 326.2,328.5 318.7,327.9 311.3,327.2 304.0,326.3 296.8,325.3 289.7,324.1 282.8,322.9 276.0,321.5 269.3,319.9 262.7,318.3 256.2,316.5 249.9,314.6 243.8,312.6 237.8,310.4 231.9,308.2 226.2,305.8 220.7,303.3 215.3,300.7 210.1,298.0 205.1,295.2 200.3,292.3 195.7,289.3 191.2,286.2 187.0,283.0 183.0,279.7 179.1,276.4 175.5,272.9 172.1,269.4 168.9,265.8 166.0,262.1 163.3,258.3 160.8,254.5 158.5,250.6 156.4,246.7 154.6,242.7 153.1,238.6 151.7,234.4 150.6,230.2 149.8,226.0 149.2,221.6 148.8,217.1 148.7,212.3 Z" fill="url(#edge)"/>
<path d="M148.40,206.30 A209.20,117.30 0 0 1 566.80,206.30 L566.8,206.3 566.7,211.1 566.3,215.6 565.7,220.0 564.9,224.2 563.8,228.4 562.4,232.6 560.9,236.7 559.1,240.7 557.0,244.6 554.8,248.5 552.3,252.3 549.5,256.1 546.6,259.8 543.4,263.4 540.0,266.9 536.4,270.4 532.6,273.7 528.6,277.0 524.3,280.2 519.9,283.3 515.3,286.3 510.5,289.2 505.5,292.0 500.3,294.7 494.9,297.3 489.4,299.8 483.7,302.2 477.9,304.4 471.9,306.6 465.7,308.6 459.4,310.5 453.0,312.3 446.4,313.9 439.7,315.5 432.9,316.9 426.0,318.1 418.9,319.3 411.7,320.3 404.5,321.2 397.1,321.9 389.6,322.5 382.0,323.0 374.2,323.3 366.2,323.5 357.6,323.6 349.0,323.5 341.0,323.3 333.2,323.0 325.6,322.5 318.1,321.9 310.7,321.2 303.5,320.3 296.3,319.3 289.2,318.1 282.3,316.9 275.5,315.5 268.8,313.9 262.2,312.3 255.8,310.5 249.5,308.6 243.3,306.6 237.3,304.4 231.5,302.2 225.8,299.8 220.3,297.3 214.9,294.7 209.7,292.0 204.7,289.2 199.9,286.3 195.3,283.3 190.9,280.2 186.6,277.0 182.6,273.7 178.8,270.4 175.2,266.9 171.8,263.4 168.6,259.8 165.7,256.1 162.9,252.3 160.4,248.5 158.2,244.6 156.1,240.7 154.3,236.7 152.8,232.6 151.4,228.4 150.3,224.2 149.5,220.0 148.9,215.6 148.5,211.1 148.4,206.3 Z" fill="#d1d1d7"/>
<path d="M357.60,196.00 L166.55,177.40 A199.00,108.46 0 0 1 240.36,120.11 Z" fill="#f3937a"/>
<path d="M176.20,252.34 A199.00,108.46 0 0 0 431.23,308.50 L427.85,303.34 A190.71,103.94 0 0 1 184.12,249.88 Z" fill="#f9ea5e"/>
<path fill-rule="evenodd" fill="#383838" d="M158.10,207.87A199.50,108.96 0 1 0 557.10,207.87A199.50,108.96 0 1 0 158.10,207.87ZM159.10,207.62A198.50,107.96 0 1 0 556.10,207.62A198.50,107.96 0 1 0 159.10,207.62Z"/>
<path fill-rule="evenodd" fill="#383838" d="M166.39,206.83A191.21,104.44 0 1 0 548.81,206.83A191.21,104.44 0 1 0 166.39,206.83ZM167.39,206.58A190.21,103.44 0 1 0 547.81,206.58A190.21,103.44 0 1 0 167.39,206.58Z"/>
<path fill-rule="evenodd" fill="#383838" d="M174.68,205.84A182.92,99.92 0 1 0 540.52,205.84A182.92,99.92 0 1 0 174.68,205.84ZM175.68,205.59A181.92,98.92 0 1 0 539.52,205.59A181.92,98.92 0 1 0 175.68,205.59Z"/>
<path fill-rule="evenodd" fill="#383838" d="M191.26,203.99A166.34,90.88 0 1 0 523.94,203.99A166.34,90.88 0 1 0 191.26,203.99ZM192.26,203.74A165.34,89.88 0 1 0 522.94,203.74A165.34,89.88 0 1 0 192.26,203.74Z"/>
<path fill-rule="evenodd" fill="#383838" d="M199.55,203.14A158.05,86.36 0 1 0 515.65,203.14A158.05,86.36 0 1 0 199.55,203.14ZM200.55,202.89A157.05,85.36 0 1 0 514.65,202.89A157.05,85.36 0 1 0 200.55,202.89Z"/>
<path fill-rule="evenodd" fill="#383838" d="M207.84,202.32A149.76,81.85 0 1 0 507.36,202.32A149.76,81.85 0 1 0 207.84,202.32ZM208.84,202.07A148.76,80.85 0 1 0 506.36,202.07A148.76,80.85 0 1 0 208.84,202.07Z"/>
<path fill-rule="evenodd" fill="#383838" d="M216.13,201.55A141.47,77.33 0 1 0 499.07,201.55A141.47,77.33 0 1 0 216.13,201.55ZM217.13,201.30A140.47,76.33 0 1 0 498.07,201.30A140.47,76.33 0 1 0 217.13,201.30Z"/>
<path fill-rule="evenodd" fill="#383838" d="M224.42,200.82A133.18,72.81 0 1 0 490.78,200.82A133.18,72.81 0 1 0 224.42,200.82ZM225.42,200.57A132.18,71.81 0 1 0 489.78,200.57A132.18,71.81 0 1 0 225.42,200.57Z"/>
<path fill-rule="evenodd" fill="#383838" d="M232.71,200.14A124.89,68.29 0 1 0 482.49,200.14A124.89,68.29 0 1 0 232.71,200.14ZM233.71,199.89A123.89,67.29 0 1 0 481.49,199.89A123.89,67.29 0 1 0 233.71,199.89Z"/>
<path fill-rule="evenodd" fill="#383838" d="M241.00,199.50A116.60,63.77 0 1 0 474.20,199.50A116.60,63.77 0 1 0 241.00,199.50ZM242.00,199.25A115.60,62.77 0 1 0 473.20,199.25A115.60,62.77 0 1 0 242.00,199.25Z"/>
<path fill-rule="evenodd" fill="#383838" d="M249.29,198.91A108.31,59.26 0 1 0 465.91,198.91A108.31,59.26 0 1 0 249.29,198.91ZM250.29,198.66A107.31,58.26 0 1 0 464.91,198.66A107.31,58.26 0 1 0 250.29,198.66Z"/>
<path fill-rule="evenodd" fill="#383838" d="M257.58,198.36A100.02,54.74 0 1 0 457.62,198.36A100.02,54.74 0 1 0 257.58,198.36ZM258.58,198.11A99.02,53.74 0 1 0 456.62,198.11A99.02,53.74 0 1 0 258.58,198.11Z"/>
<path fill-rule="evenodd" fill="#383838" d="M265.87,197.85A91.73,50.22 0 1 0 449.33,197.85A91.73,50.22 0 1 0 265.87,197.85ZM266.87,197.60A90.73,49.22 0 1 0 448.33,197.60A90.73,49.22 0 1 0 266.87,197.60Z"/>
<path fill-rule="evenodd" fill="#383838" d="M274.16,197.39A83.44,45.70 0 1 0 441.04,197.39A83.44,45.70 0 1 0 274.16,197.39ZM275.16,197.14A82.44,44.70 0 1 0 440.04,197.14A82.44,44.70 0 1 0 275.16,197.14Z"/>
<path fill-rule="evenodd" fill="#383838" d="M282.45,196.97A75.15,41.18 0 1 0 432.75,196.97A75.15,41.18 0 1 0 282.45,196.97ZM283.45,196.72A74.15,40.18 0 1 0 431.75,196.72A74.15,40.18 0 1 0 283.45,196.72Z"/>
<path fill-rule="evenodd" fill="#7899db" d="M181.22,204.97A176.38,97.05 0 1 0 533.98,204.97A176.38,97.05 0 1 0 181.22,204.97ZM185.72,204.57A171.88,92.75 0 1 0 529.48,204.57A171.88,92.75 0 1 0 185.72,204.57Z"/>
<line x1="357.60" y1="156.16" x2="357.60" y2="99.29" stroke="#3c3c3c" stroke-width="0.9"/>
<line x1="404.62" y1="165.24" x2="474.08" y2="119.81" stroke="#3c3c3c" stroke-width="0.9"/>
<line x1="430.75" y1="188.72" x2="548.45" y2="177.02" stroke="#3c3c3c" stroke-width="0.9"/>
<line x1="423.20" y1="216.26" x2="539.20" y2="252.10" stroke="#3c3c3c" stroke-width="0.9"/>
<line x1="383.17" y1="235.07" x2="431.23" y2="308.50" stroke="#3c3c3c" stroke-width="0.9"/>
<line x1="331.55" y1="234.97" x2="286.03" y2="303.05" stroke="#3c3c3c" stroke-width="0.9"/>
<line x1="292.09" y1="216.35" x2="176.20" y2="252.34" stroke="#3c3c3c" stroke-width="0.9"/>
<line x1="284.40" y1="188.87" x2="166.55" y2="177.40" stroke="#3c3c3c" stroke-width="0.9"/>
<line x1="310.29" y1="165.37" x2="240.36" y2="120.11" stroke="#3c3c3c" stroke-width="0.9"/>
<ellipse cx="357.60" cy="196.84" rx="74.15" ry="40.18" fill="#d4d4da"/>
<ellipse cx="357.8" cy="196.90" rx="62.3" ry="34.2" fill="url(#metal)" stroke="url(#rim)" stroke-width="1.6"/>
<ellipse cx="357.6" cy="196.20" rx="47.25" ry="25.6" fill="url(#metal2)" stroke="#444" stroke-width="0.9"/>
<ellipse cx="357.4" cy="196.20" rx="29.5" ry="16.2" fill="none" stroke="#444" stroke-width="0.9"/>
<ellipse cx="357.9" cy="196.20" rx="9" ry="4.9" fill="#111"/>
<ellipse cx="357.3" cy="175.70" rx="2.8" ry="2.1" fill="#111"/>
<ellipse cx="390" cy="185.40" rx="2.8" ry="2.1" fill="#111"/>
<ellipse cx="390.5" cy="206.90" rx="2.8" ry="2.1" fill="#111"/>
<ellipse cx="357.5" cy="217.50" rx="2.8" ry="2.1" fill="#111"/>
<ellipse cx="324.7" cy="206.90" rx="2.8" ry="2.1" fill="#111"/>
<ellipse cx="324.7" cy="185.40" rx="2.8" ry="2.1" fill="#111"/>
<text x="298.0" y="103.2" text-anchor="middle" font-family="Liberation Sans" font-weight="bold" font-size="12.5" fill="#222">1</text>
<text x="415.3" y="102.7" text-anchor="middle" font-family="Liberation Sans" font-weight="bold" font-size="12.5" fill="#222">2</text>
<text x="518.8" y="141.5" text-anchor="middle" font-family="Liberation Sans" font-weight="bold" font-size="12.5" fill="#222">3</text>
<text x="559.9" y="216.5" text-anchor="middle" font-family="Liberation Sans" font-weight="bold" font-size="12.5" fill="#222">4</text>
<text x="497.8" y="294.6" text-anchor="middle" font-family="Liberation Sans" font-weight="bold" font-size="12.5" fill="#222">5</text>
<text x="355.1" y="325.8" text-anchor="middle" font-family="Liberation Sans" font-weight="bold" font-size="12.5" fill="#222">6</text>
<text x="219.5" y="297.0" text-anchor="middle" font-family="Liberation Sans" font-weight="bold" font-size="12.5" fill="#222">7</text>
<text x="155.3" y="223.0" text-anchor="middle" font-family="Liberation Sans" font-weight="bold" font-size="12.5" fill="#222">8</text>
<text x="197.3" y="141.3" text-anchor="middle" font-family="Liberation Sans" font-weight="bold" font-size="12.5" fill="#222">9</text>
<line x1="149.2" y1="68.1" x2="216.8" y2="132.9" stroke="#1a1a1a" stroke-width="2"/>
<line x1="149.2" y1="68.1" x2="228.4" y2="132.5" stroke="#1a1a1a" stroke-width="2"/>
<line x1="540.6" y1="15" x2="435" y2="119.7" stroke="#1a1a1a" stroke-width="2"/>
<line x1="106.3" y1="486.6" x2="238.5" y2="292" stroke="#1a1a1a" stroke-width="2"/>
<line x1="530.2" y1="219.8" x2="579.7" y2="219.8" stroke="#1a1a1a" stroke-width="2"/>
<line x1="563.6" y1="234.2" x2="579.7" y2="234.2" stroke="#1a1a1a" stroke-width="2"/>
<line x1="529.6" y1="284.9" x2="579.7" y2="284.9" stroke="#1a1a1a" stroke-width="2"/>
<line x1="562.3" y1="299.8" x2="579.7" y2="299.8" stroke="#1a1a1a" stroke-width="2"/>
<line x1="529.0" y1="347.5" x2="579.7" y2="347.5" stroke="#1a1a1a" stroke-width="2"/>
<line x1="562.3" y1="362.3" x2="579.7" y2="362.3" stroke="#1a1a1a" stroke-width="2"/>
<line x1="528.5" y1="414.0" x2="579.7" y2="414.0" stroke="#1a1a1a" stroke-width="2"/>
<line x1="560.3" y1="428.9" x2="579.7" y2="428.9" stroke="#1a1a1a" stroke-width="2"/>
<path d="M757.5,201.1 H770.5 V455.8 H756.5" fill="none" stroke="#1a1a1a" stroke-width="2"/>
<line x1="770.5" y1="333.5" x2="790.3" y2="333.5" stroke="#1a1a1a" stroke-width="2"/>
<text x="12.3" y="20.2" textLength="61.0" lengthAdjust="spacingAndGlyphs" font-family="Liberation Sans" font-weight="normal" font-size="16.5" fill="#303030" stroke="#303030" stroke-width="0.7">SECTOR</text>
<text x="11.899999999999999" y="39.8" textLength="211.2" lengthAdjust="spacingAndGlyphs" font-family="Liberation Sans" font-weight="normal" font-size="13.5" fill="#303030" stroke="#303030" stroke-width="0.12">Cada disco se divide en un grupo</text>
<text x="11.899999999999999" y="56.6" textLength="189.39999999999998" lengthAdjust="spacingAndGlyphs" font-family="Liberation Sans" font-weight="normal" font-size="13.5" fill="#303030" stroke="#303030" stroke-width="0.12">de sectores de forma circular.</text>
<text x="552.8" y="20.2" textLength="53.4" lengthAdjust="spacingAndGlyphs" font-family="Liberation Sans" font-weight="normal" font-size="16.5" fill="#303030" stroke="#303030" stroke-width="0.7">PISTAS</text>
<text x="552.0" y="40.6" textLength="170.5" lengthAdjust="spacingAndGlyphs" font-family="Liberation Sans" font-weight="normal" font-size="13.5" fill="#303030" stroke="#303030" stroke-width="0.12">Los datos se almacenan en</text>
<text x="552.0" y="57.5" textLength="202.6" lengthAdjust="spacingAndGlyphs" font-family="Liberation Sans" font-weight="normal" font-size="13.5" fill="#303030" stroke="#303030" stroke-width="0.12">pistas circulares, los 0 y 1 (BITS)</text>
<text x="552.0" y="74.2" textLength="243.5" lengthAdjust="spacingAndGlyphs" font-family="Liberation Sans" font-weight="normal" font-size="13.5" fill="#303030" stroke="#303030" stroke-width="0.12">están representados magnéticamente.</text>
<text x="801.0" y="339.9" textLength="77.7" lengthAdjust="spacingAndGlyphs" font-family="Liberation Sans" font-weight="normal" font-size="16.5" fill="#303030" stroke="#303030" stroke-width="0.7">CILINDRO</text>
<text x="800.2" y="360.0" textLength="145.39999999999998" lengthAdjust="spacingAndGlyphs" font-family="Liberation Sans" font-weight="normal" font-size="13.5" fill="#303030" stroke="#303030" stroke-width="0.12">Un cilindro consiste en</text>
<text x="800.2" y="376.3" textLength="164.79999999999998" lengthAdjust="spacingAndGlyphs" font-family="Liberation Sans" font-weight="normal" font-size="13.5" fill="#303030" stroke="#303030" stroke-width="0.12">una pila vertical de pistas,</text>
<text x="800.2" y="393.0" textLength="161.2" lengthAdjust="spacingAndGlyphs" font-family="Liberation Sans" font-weight="normal" font-size="13.5" fill="#303030" stroke="#303030" stroke-width="0.12">la misma pista relativa en</text>
<text x="800.2" y="409.5" textLength="160.1" lengthAdjust="spacingAndGlyphs" font-family="Liberation Sans" font-weight="normal" font-size="13.5" fill="#303030" stroke="#303030" stroke-width="0.12">cada superficie del disco.</text>
<text x="24.6" y="489.8" textLength="68.5" lengthAdjust="spacingAndGlyphs" font-family="Liberation Sans" font-weight="normal" font-size="16.5" fill="#303030" stroke="#303030" stroke-width="0.7">CLUSTER</text>
<text x="23.8" y="510.2" textLength="196.39999999999998" lengthAdjust="spacingAndGlyphs" font-family="Liberation Sans" font-weight="normal" font-size="13.5" fill="#303030" stroke="#303030" stroke-width="0.12">Uno o más sectores forman un</text>
<text x="23.8" y="526.8" textLength="159.39999999999998" lengthAdjust="spacingAndGlyphs" font-family="Liberation Sans" font-weight="normal" font-size="13.5" fill="#303030" stroke="#303030" stroke-width="0.12">clúster, que es el área de</text>
<text x="23.8" y="543.4" textLength="195.7" lengthAdjust="spacingAndGlyphs" font-family="Liberation Sans" font-weight="normal" font-size="13.5" fill="#303030" stroke="#303030" stroke-width="0.12">almacenamiento más pequeña</text>
<text x="23.8" y="559.8" textLength="68.3" lengthAdjust="spacingAndGlyphs" font-family="Liberation Sans" font-weight="normal" font-size="13.5" fill="#303030" stroke="#303030" stroke-width="0.12">en el disco</text>
<text x="585.7" y="221.0" textLength="177.39999999999998" lengthAdjust="spacingAndGlyphs" font-family="Liberation Sans" font-weight="normal" font-size="12.5" fill="#303030" stroke="#303030" stroke-width="0.12">Pista 13, disco 1, lado superior</text>
<text x="585.7" y="238.7" textLength="172.0" lengthAdjust="spacingAndGlyphs" font-family="Liberation Sans" font-weight="normal" font-size="12.5" fill="#303030" stroke="#303030" stroke-width="0.12">Pista 13, disco 1, lado inferior</text>
<text x="585.7" y="288.5" textLength="177.39999999999998" lengthAdjust="spacingAndGlyphs" font-family="Liberation Sans" font-weight="normal" font-size="12.5" fill="#303030" stroke="#303030" stroke-width="0.12">Pista 13, disco 2, lado superior</text>
<text x="585.7" y="305.9" textLength="172.0" lengthAdjust="spacingAndGlyphs" font-family="Liberation Sans" font-weight="normal" font-size="12.5" fill="#303030" stroke="#303030" stroke-width="0.12">Pista 13, disco 2, lado inferior</text>
<text x="585.7" y="350.2" textLength="177.39999999999998" lengthAdjust="spacingAndGlyphs" font-family="Liberation Sans" font-weight="normal" font-size="12.5" fill="#303030" stroke="#303030" stroke-width="0.12">Pista 13, disco 3, lado superior</text>
<text x="585.7" y="367.9" textLength="172.0" lengthAdjust="spacingAndGlyphs" font-family="Liberation Sans" font-weight="normal" font-size="12.5" fill="#303030" stroke="#303030" stroke-width="0.12">Pista 13, disco 3, lado inferior</text>
<text x="585.7" y="416.4" textLength="177.39999999999998" lengthAdjust="spacingAndGlyphs" font-family="Liberation Sans" font-weight="normal" font-size="12.5" fill="#303030" stroke="#303030" stroke-width="0.12">Pista 13, disco 4, lado superior</text>
<text x="585.7" y="434.1" textLength="172.0" lengthAdjust="spacingAndGlyphs" font-family="Liberation Sans" font-weight="normal" font-size="12.5" fill="#303030" stroke="#303030" stroke-width="0.12">Pista 13, disco 4, lado inferior</text>
<line x1="0" y1="562.5" x2="40" y2="562.5" stroke="url(#redfade)" stroke-width="1"/>
</svg>
</body></html>
